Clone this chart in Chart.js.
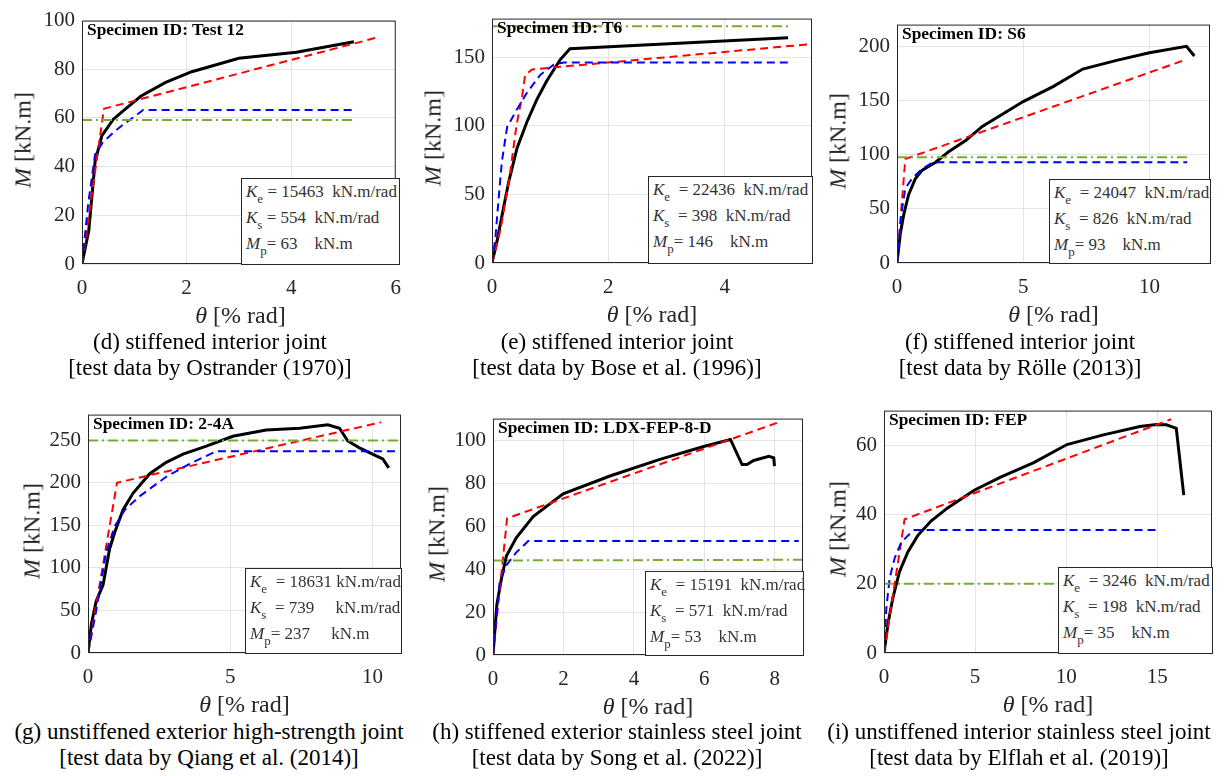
<!DOCTYPE html>
<html>
<head>
<meta charset="utf-8">
<script src="https://cdn.jsdelivr.net/npm/chart.js@4.4.0/dist/chart.umd.min.js"></script>
<style>
  body { margin: 0; background: #fff; width: 1225px; height: 776px; position: relative; overflow: hidden;
         font-family: 'Liberation Serif', 'Times New Roman', serif; }
  canvas { position: absolute; }
  .ytitle, .xtitle { position: absolute; white-space: nowrap; font-size: 24px; color: #262626; }
  .ytitle { transform: translate(-50%, -50%) rotate(-90deg); }
  .xtitle { transform: translate(-50%, -50%); }
  .spec { position: absolute; white-space: nowrap; font-size: 17.4px; font-weight: bold; color: #000; }
  .kbox { position: absolute; background: #fff; border: 1.5px solid #262626; box-sizing: border-box;
          font-size: 17px; color: #333; padding: 0 4px; line-height: 26px; white-space: pre; }
  .kbox sub { font-size: 13px; vertical-align: -6px; line-height: 0; }
  .cap { position: absolute; width: 460px; margin-left: -230px; text-align: center; font-size: 23px;
         line-height: 26px; color: #000; white-space: nowrap; }
</style>
</head>
<body>
<script>
// ---- data: [theta %rad, M kN.m] ----
// (d) Ostrander Test 12
const d_test  = [[0,0],[0.13,13.8],[0.25,42],[0.38,52.7],[0.6,59.5],[0.85,64],[1.13,69],[1.6,74.6],[2.1,79],[3.0,84.5],[4.1,87],[5.2,91.3]];
const d_red   = [[0,0],[0.42,63.8],[5.69,93.3]];
const d_blue  = [[0,0],[0.12,25],[0.25,45],[0.4,50],[0.6,54],[0.8,57.5],[1.0,60.5],[1.17,63.3],[5.2,63.3]];
const d_green = [[0,59.2],[5.2,59.2]];
const d_xTicks = [0, 2, 4, 6];
const d_yTicks = [0, 20, 40, 60, 80, 100];

// (e) Bose T6
const e_test  = [[0,0],[0.09,16.7],[0.2,40.6],[0.29,59.7],[0.43,83.6],[0.6,102.7],[0.77,119],[0.94,132.5],[1.17,148],[1.34,156],[5.09,164]];
const e_red   = [[0,0],[0.15,25],[0.3,62],[0.42,100],[0.52,122],[0.57,137],[0.69,141],[5.5,159.5]];
const e_blue  = [[0,0],[0.06,19],[0.11,45],[0.17,74],[0.26,99],[0.43,112],[0.6,124],[0.83,137],[1.06,144.5],[1.23,146],[5.09,146]];
const e_green = [[0,172.4],[5.09,172.4]];
const e_xTicks = [0, 2, 4];
const e_yTicks = [0, 50, 100, 150];

// (f) Rölle S6
const f_test  = [[0,0],[0.13,27],[0.27,45],[0.46,63],[0.73,78],[1.0,85.7],[1.53,93],[2.06,103],[2.72,113],[3.38,126],[5.0,149],[6.2,163],[7.36,179],[8.7,187],[10.0,194],[11.47,200],[11.78,191]];
const f_red   = [[0,0],[0.33,96],[11.3,186.5]];
const f_blue  = [[0,0],[0.17,45],[0.33,69],[0.6,78],[1.0,87],[1.4,92.6],[1.66,93],[11.5,93]];
const f_green = [[0,97.7],[11.5,97.7]];
const f_xTicks = [0, 5, 10];
const f_yTicks = [0, 50, 100, 150, 200];

// (g) Qiang 2-4A
const g_test  = [[0,0],[0.12,34],[0.29,61],[0.53,80],[0.76,122.5],[0.94,141.7],[1.23,168],[1.58,187.6],[2.17,210.6],[2.75,224],[3.34,233.5],[4.16,243],[5.09,254.6],[6.26,262],[7.44,264],[8.43,268],[8.84,264],[9.13,249],[9.54,241],[10.13,231.6],[10.36,228],[10.57,217.5]];
const g_red   = [[0,0],[1.02,200],[10.3,271]];
const g_blue  = [[0,0],[0.29,50],[0.64,118.7],[0.94,149],[1.29,168],[1.81,184],[2.75,207],[3.57,222],[4.5,237],[10.95,237]];
const g_green = [[0,249.5],[11,249.5]];
const g_xTicks = [0, 5, 10];
const g_yTicks = [0, 50, 100, 150, 200, 250];

// (h) Song LDX-FEP-8-D
const h_test  = [[0,0],[0.11,23.5],[0.24,35.6],[0.38,46],[0.66,54.5],[1.14,64.4],[1.99,75],[3.32,83.3],[4.74,91],[5.98,97],[6.74,100.3],[7.07,88.6],[7.21,88.6],[7.4,90.5],[7.83,92.4],[7.97,91.7],[7.99,87.9]];
const h_red   = [[0,0],[0.4,63.6],[8.06,108]];
const h_blue  = [[0,0],[0.19,34],[0.38,41.7],[0.66,47.7],[1.0,53],[8.68,53]];
const h_green = [[0,44],[8.8,44.3]];
const h_xTicks = [0, 2, 4, 6, 8];
const h_yTicks = [0, 20, 40, 60, 80, 100];

// (i) Elflah FEP
const i_test  = [[0,0],[0.22,8.5],[0.49,16],[0.85,23.5],[1.31,29.2],[1.85,33.9],[2.58,38.1],[3.49,41.9],[4.95,47],[6.4,50.8],[8.22,55],[10.04,60.2],[12.04,63],[14.04,65.4],[14.95,66],[15.5,65.9],[16.04,64.9],[16.45,45.6]];
const i_red   = [[0,0],[1.13,38.6],[15.76,67.5]];
const i_blue  = [[0,0],[0.13,13],[0.31,21.6],[0.58,27.3],[0.95,32],[1.49,34.8],[1.67,35.5],[15,35.5]];
const i_green = [[0,20],[15.5,20]];
const i_xTicks = [0, 5, 10, 15];
const i_yTicks = [0, 20, 40, 60];

// ---- layout (plot area in page pixels) ----
const panels = [
  { rect: [82, 15, 399, 264],  xMax: 6,    yMax: 100, xt: d_xTicks, yt: d_yTicks, test: d_test, red: d_red, blue: d_blue, green: d_green,
    spec: 'Specimen ID: Test 12', k: ['15463  kN.m/rad', '554  kN.m/rad', '63    kN.m'], box: [241, 178], pre: ['', '', ''],
    cap: ['(d) stiffened interior joint', '[test data by Ostrander (1970)]'], capX: 210, capY: 329, yTitleX: 23 },
  { rect: [492, 13, 812, 263], xMax: 5.5,  yMax: 178, xt: e_xTicks, yt: e_yTicks, test: e_test, red: e_red, blue: e_blue, green: e_green,
    spec: 'Specimen ID: T6', k: ['22436  kN.m/rad', '398  kN.m/rad', '146    kN.m'], box: [648, 176], pre: [' ', ' ', ''],
    cap: ['(e) stiffened interior joint', '[test data by Bose et al. (1996)]'], capX: 617, capY: 329, yTitleX: 433 },
  { rect: [897, 19, 1210, 263], xMax: 12.4, yMax: 220, xt: f_xTicks, yt: f_yTicks, test: f_test, red: f_red, blue: f_blue, green: f_green,
    spec: 'Specimen ID: S6', k: ['24047  kN.m/rad', '826  kN.m/rad', '93    kN.m'], box: [1049, 179], pre: [' ', ' ', ''],
    cap: ['(f) stiffened interior joint', '[test data by Rölle (2013)]'], capX: 1020, capY: 329, yTitleX: 838 },
  { rect: [88, 409, 401, 653], xMax: 11,   yMax: 280, xt: g_xTicks, yt: g_yTicks, test: g_test, red: g_red, blue: g_blue, green: g_green,
    spec: 'Specimen ID: 2-4A', k: ['18631 kN.m/rad', '739     kN.m/rad', '237     kN.m'], box: [245, 568], pre: [' ', ' ', ''],
    cap: ['(g) unstiffened exterior high-strength joint', '[test data by Qiang et al. (2014)]'], capX: 209, capY: 719, yTitleX: 32 },
  { rect: [493, 413, 803, 655], xMax: 8.8,  yMax: 110, xt: h_xTicks, yt: h_yTicks, test: h_test, red: h_red, blue: h_blue, green: h_green,
    spec: 'Specimen ID: LDX-FEP-8-D', k: ['15191  kN.m/rad', '571  kN.m/rad', '53    kN.m'], box: [645, 571], pre: [' ', ' ', ''],
    cap: ['(h) stiffened exterior stainless steel joint', '[test data by Song et al. (2022)]'], capX: 617, capY: 719, yTitleX: 437 },
  { rect: [884, 405, 1212, 653], xMax: 18,  yMax: 70,  xt: i_xTicks, yt: i_yTicks, test: i_test, red: i_red, blue: i_blue, green: i_green,
    spec: 'Specimen ID: FEP', k: ['3246  kN.m/rad', '198  kN.m/rad', '35    kN.m'], box: [1058, 567], pre: [' ', ' ', ''],
    cap: ['(i) unstiffened interior stainless steel joint', '[test data by Elflah et al. (2019)]'], capX: 1019, capY: 719, yTitleX: 838 }
];

const L = 60, T = 14, R = 14, B = 40;
const tickFont = { family: "'Liberation Serif', serif", size: 21 };

// MATLAB-like box around the axes
const boxPlugin = {
  id: 'axbox',
  afterDatasetsDraw(chart) {
    const a = chart.chartArea, ctx = chart.ctx;
    ctx.save();
    ctx.strokeStyle = '#262626';
    ctx.lineWidth = 1;
    ctx.strokeRect(a.left + 0.5, a.top + 0.5, a.right - a.left - 1, a.bottom - a.top - 1);
    ctx.restore();
  }
};

function line(pts, color, dash, width) {
  return {
    data: pts.map(p => ({ x: p[0], y: p[1] })),
    showLine: true, pointRadius: 0, borderColor: color, borderWidth: width,
    borderDash: dash, fill: false, tension: 0
  };
}

function addDiv(cls, html, style) {
  const el = document.createElement('div');
  el.className = cls;
  el.innerHTML = html;
  Object.assign(el.style, style);
  document.body.appendChild(el);
  return el;
}

panels.forEach(p => {
  const [x0, y0, x1, y1] = p.rect;
  const w = x1 - x0 + L + R, h = y1 - y0 + T + B;
  const c = document.createElement('canvas');
  c.width = w; c.height = h;
  c.style.left = (x0 - L) + 'px';
  c.style.top = (y0 - T) + 'px';
  c.style.width = w + 'px';
  c.style.height = h + 'px';
  document.body.appendChild(c);

  new Chart(c, {
    type: 'scatter',
    data: {
      datasets: [
        line(p.green, '#77ac30', [10, 4, 2, 4], 2),
        line(p.blue, '#0000ff', [8, 5], 2),
        line(p.red, '#ff0000', [8, 5], 2),
        line(p.test, '#000000', [], 3)
      ]
    },
    options: {
      responsive: false,
      animation: false,
      devicePixelRatio: 1,
      layout: { padding: { top: T, right: R, left: 0, bottom: 0 } },
      plugins: { legend: { display: false }, tooltip: { enabled: false } },
      scales: {
        x: {
          type: 'linear', min: 0, max: p.xMax,
          afterBuildTicks: s => { s.ticks = p.xt.map(v => ({ value: v })); },
          afterFit: s => { s.height = B; },
          grid: { color: '#e4e4e4', drawTicks: false },
          border: { display: false },
          ticks: { font: tickFont, color: '#262626', padding: 12, maxRotation: 0, callback: v => String(v) }
        },
        y: {
          type: 'linear', min: 0, max: p.yMax,
          afterBuildTicks: s => { s.ticks = p.yt.map(v => ({ value: v })); },
          afterFit: s => { s.width = L; },
          grid: { color: '#e4e4e4', drawTicks: false },
          border: { display: false },
          ticks: { font: tickFont, color: '#262626', padding: 7, callback: v => String(v) }
        }
      }
    },
    plugins: [boxPlugin]
  });

  // axis titles
  addDiv('ytitle', '<i>M</i> [kN.m]', { left: p.yTitleX + 'px', top: ((y0 + y1) / 2) + 'px' });
  addDiv('xtitle', '<i>θ</i> [% rad]', { left: ((x0 + x1) / 2) + 'px', top: (y1 + 51) + 'px' });
  // specimen label
  addDiv('spec', p.spec, { left: (x0 + 5) + 'px', top: (y0 + 4) + 'px' });
  // stiffness box
  const kHtml =
    '<i>K</i><sub>e</sub>' + p.pre[0] + ' = ' + p.k[0] + '\n' +
    '<i>K</i><sub>s</sub>' + p.pre[1] + ' = ' + p.k[1] + '\n' +
    '<i>M</i><sub>p</sub>' + p.pre[2] + '= ' + p.k[2];
  addDiv('kbox', kHtml, {
    left: p.box[0] + 'px', top: p.box[1] + 'px',
    width: (x1 - p.box[0] + 1) + 'px', height: (y1 - p.box[1] + 1) + 'px'
  });
  // caption
  addDiv('cap', p.cap[0] + '<br>' + p.cap[1], { left: p.capX + 'px', top: p.capY + 'px' });
});
</script>
</body>
</html>
